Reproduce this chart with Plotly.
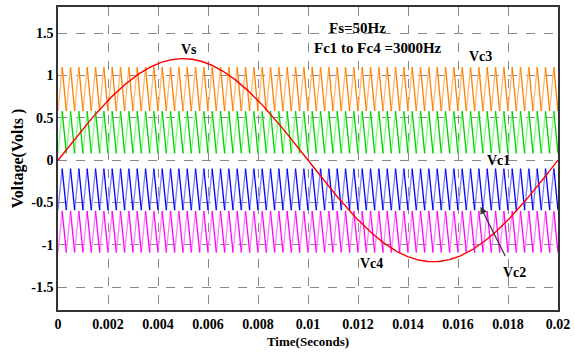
import numpy as np
import plotly.graph_objects as go

# Parameters
t_end = 0.02
fs = 50.0            # reference (sine) frequency, Hz
fc = 3000.0          # carrier frequency, Hz
vs_amp = 1.2         # sine amplitude

carrier_names = ["Vc3", "Vc1", "Vc2", "Vc4"]
carrier_low = [0.58, 0.08, -0.59, -1.09]
carrier_high = [1.10, 0.58, -0.10, -0.60]
carrier_dark = ["#FF8000", "#00D000", "#0000FF", "#FF00FF"]
carrier_light = ["#FFB870", "#80FF80", "#8080FF", "#FF80FF"]

x_ticks = [0, 0.002, 0.004, 0.006, 0.008, 0.01, 0.012, 0.014, 0.016, 0.018, 0.02]
x_tick_text = ["0", "0.002", "0.004", "0.006", "0.008", "0.01", "0.012", "0.014", "0.016", "0.018", "0.02"]
y_ticks = [1.5, 1, 0.5, 0, -0.5, -1, -1.5]
y_tick_text = ["1.5", "1", "0.5", "0", "-0.5", "-1", "-1.5"]

fig = go.Figure()

n_half = int(round(2 * fc * t_end))
vert_t = np.arange(n_half + 1) / (2 * fc)
for name, lo, hi, dk, lt in zip(carrier_names, carrier_low, carrier_high, carrier_dark, carrier_light):
    vals = np.where(np.arange(n_half + 1) % 2 == 0, lo, hi)
    rx, ry, fx, fy = [], [], [], []
    for i in range(n_half):
        if vals[i] < vals[i + 1]:
            rx += [vert_t[i], vert_t[i + 1], None]
            ry += [vals[i], vals[i + 1], None]
        else:
            fx += [vert_t[i], vert_t[i + 1], None]
            fy += [vals[i], vals[i + 1], None]
    fig.add_trace(go.Scatter(x=rx, y=ry, mode="lines", line=dict(color=lt, width=1.3),
                             showlegend=False, hoverinfo="skip"))
    fig.add_trace(go.Scatter(x=fx, y=fy, mode="lines", line=dict(color=dk, width=1.3),
                             showlegend=False, name=name))

ts = np.linspace(0, t_end, 800)
fig.add_trace(go.Scatter(x=ts, y=vs_amp * np.sin(2 * np.pi * fs * ts), mode="lines",
                         line=dict(color="#FF0000", width=1.4), showlegend=False, name="Vs"))

serif = "Liberation Serif"
ann_font = dict(family=serif, size=14, color="black", weight="bold")
big_font = dict(family=serif, size=15, color="black", weight="bold")
annotations = [
    dict(x=0.00523, y=1.31, text="Vs", font=ann_font),
    dict(x=0.01196, y=1.56, text="Fs=50Hz", font=big_font),
    dict(x=0.01279, y=1.32, text="Fc1 to Fc4 =3000Hz", font=big_font),
    dict(x=0.0169, y=1.22, text="Vc3", font=ann_font),
    dict(x=0.01762, y=0.0, text="Vc1", font=ann_font),
    dict(x=0.01255, y=-1.22, text="Vc4", font=ann_font),
    dict(x=0.01826, y=-1.33, text="Vc2", font=ann_font),
]
for a in annotations:
    fig.add_annotation(x=a["x"], y=a["y"], text=a["text"], font=a["font"], showarrow=False,
                       xref="x", yref="y")
fig.add_annotation(x=0.0169, y=-0.55, ax=0.01792, ay=-1.15, xref="x", yref="y",
                   axref="x", ayref="y", text="", showarrow=True, arrowhead=2,
                   arrowsize=1.2, arrowwidth=1.2, arrowcolor="#333333")

axis_common = dict(showgrid=True, gridcolor="#888888", griddash="dash", gridwidth=1,
                   zeroline=False, showline=True, linecolor="#333333", linewidth=1.5,
                   mirror=True, ticks="", ticklabeloverflow="allow",
                   tickfont=dict(family=serif, size=14, color="black", weight="bold"))

fig.update_layout(
    width=575, height=354,
    margin=dict(l=58, r=12, t=5, b=44),
    paper_bgcolor="white", plot_bgcolor="white",
    xaxis=dict(range=[0, t_end], tickvals=x_ticks, ticktext=x_tick_text,
               title=dict(text="Time(Seconds)", standoff=6,
                          font=dict(family=serif, size=13, color="black", weight="bold")),
               **axis_common),
    yaxis=dict(range=[-1.77, 1.81], tickvals=y_ticks, ticktext=y_tick_text,
               title=dict(text="Voltage(Volts )", standoff=4,
                          font=dict(family=serif, size=16, color="black", weight="bold")),
               **axis_common),
)

fig.write_html("out.html")
